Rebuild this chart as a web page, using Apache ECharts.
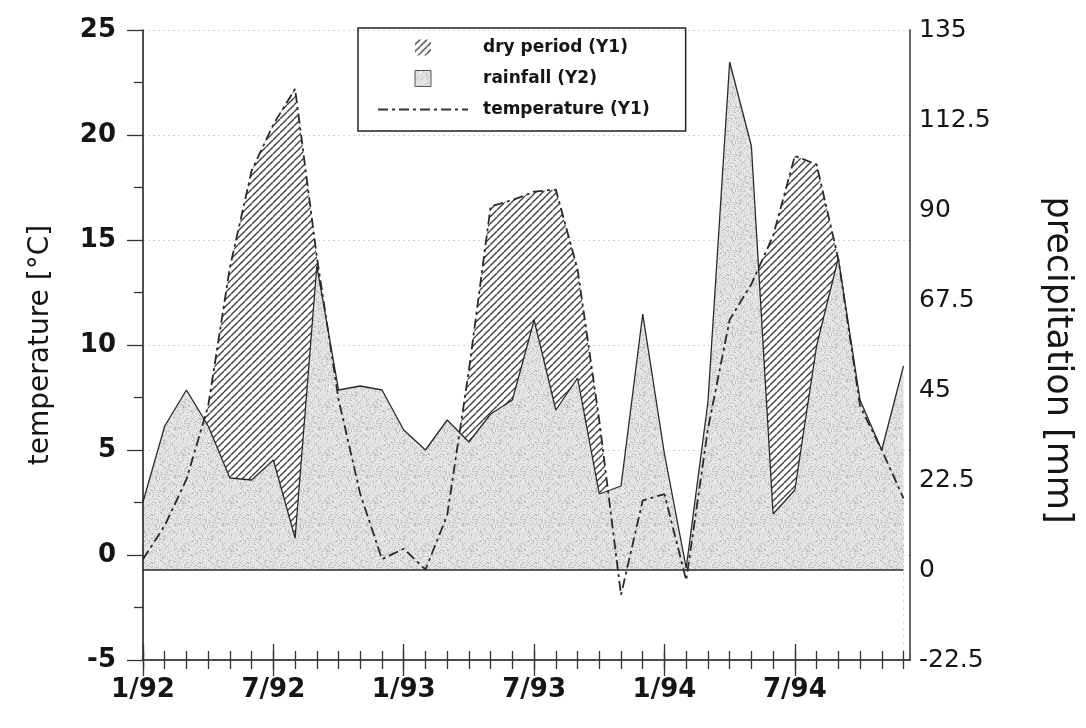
<!DOCTYPE html>
<html>
<head>
<meta charset="utf-8">
<script src="https://cdn.jsdelivr.net/npm/echarts@6/dist/echarts.min.js"></script>
<style>
html,body{margin:0;padding:0;background:#fff;}
#chart{width:1086px;height:728px;}
</style>
</head>
<body>
<div id="chart"></div>
<script>
// ---- data ----
const months = ['1/92','2/92','3/92','4/92','5/92','6/92','7/92','8/92','9/92','10/92','11/92','12/92',
                '1/93','2/93','3/93','4/93','5/93','6/93','7/93','8/93','9/93','10/93','11/93','12/93',
                '1/94','2/94','3/94','4/94','5/94','6/94','7/94','8/94','9/94','10/94','11/94','12/94'];
// monthly mean temperature [°C] (Y1)
const temperature = [-0.2, 1.4, 3.6, 7.1, 13.7, 18.3, 20.5, 22.2, 14.2, 7.4, 2.9, -0.2,
                      0.3, -0.7, 1.9, 8.8, 16.6, 16.9, 17.3, 17.4, 13.6, 6.4, -1.9, 2.6,
                      2.9, -1.2, 6.0, 11.2, 12.9, 15.2, 19.0, 18.6, 14.1, 7.1, 5.0, 2.7];
// monthly precipitation [mm] (Y2)
const rainfall = [17, 36, 45, 36, 23, 22.5, 27.5, 8, 76, 45, 46, 45,
                  35, 30, 37.5, 32, 39, 42.5, 62.5, 40, 48, 19, 21, 64,
                  29, 0.5, 42, 127, 106, 14, 20, 56, 78, 42.5, 30, 51];
const xTickLabels = ['1/92','7/92','1/93','7/93','1/94','7/94'];
const tempTicks = [-5, 0, 5, 10, 15, 20, 25];
const precipTicks = [-22.5, 0, 22.5, 45, 67.5, 90, 112.5, 135];

// ---- derived ----
const monthIdx = months.map((m, i) => i);
const labelIdx = xTickLabels.map(l => months.indexOf(l));
const tempData = monthIdx.map(i => [i, temperature[i]]);
const rainData = monthIdx.map(i => [i, rainfall[i]]);
const lastMonth = monthIdx[monthIdx.length - 1];
const xMax = lastMonth + 0.3;

// ---- patterns ----
function makeHatch() {
  const s = 7, c = document.createElement('canvas');
  c.width = s; c.height = s;
  const g = c.getContext('2d');
  g.fillStyle = '#ffffff'; g.fillRect(0, 0, s, s);
  g.strokeStyle = '#3a3a3a'; g.lineWidth = 1.3;
  for (const k of [-s, 0, s]) { g.beginPath(); g.moveTo(k, s); g.lineTo(k + s, 0); g.stroke(); }
  return c;
}
function makeStipple() {
  const s = 48, c = document.createElement('canvas');
  c.width = s; c.height = s;
  const g = c.getContext('2d');
  g.fillStyle = '#dfdfdf'; g.fillRect(0, 0, s, s);
  for (let y = 0; y < s; y++) for (let x = 0; x < s; x++) {
    const h = (Math.imul(x + 1, 73856093) ^ Math.imul(y + 1, 19349663)) >>> 0;
    if (h % 7 === 0) { g.fillStyle = '#bababa'; g.fillRect(x, y, 1, 1); }
    else if (h % 5 === 0) { g.fillStyle = '#f0f0f0'; g.fillRect(x, y, 1, 1); }
  }
  return c;
}
const hatch = { image: makeHatch(), repeat: 'repeat' };
const stipple = { image: makeStipple(), repeat: 'repeat' };

const FONT = 'DejaVu Sans';
const INK = '#151515';
const SQUARE = 'path://M0,0L10,0L10,10L0,10Z';
const DASHDOT = 'path://M0,0h10v2h-10z M14,0h3v2h-3z M21,0h10v2h-10z M35,0h3v2h-3z M42,0h10v2h-10z M56,0h3v2h-3z M63,0h10v2h-10z M77,0h3v2h-3z M84,0h6v2h-6z';

const chart = echarts.init(document.getElementById('chart'), null, { renderer: 'canvas' });

const xCommon = { type: 'value', min: 0, max: xMax, interval: 1, position: 'bottom', z: 10,
                  splitLine: { show: false } };
const tickLine = { color: '#333', width: 1.3 };

chart.setOption({
  backgroundColor: '#ffffff',
  animation: false,
  grid: { left: 143, right: 176, top: 30, bottom: 68 },
  legend: {
    left: 358, top: 28, orient: 'vertical',
    itemWidth: 90, itemHeight: 16, itemGap: 14,
    padding: [11, 36, 13, 20],
    borderColor: '#222', borderWidth: 1.5,
    selectedMode: false,
    textStyle: { fontFamily: FONT, fontWeight: 'bold', fontSize: 17, color: INK, padding: [0, 0, 0, 10] },
    data: [
      { name: 'dry period (Y1)', icon: SQUARE, itemStyle: { color: hatch, borderWidth: 0 } },
      { name: 'rainfall (Y2)', icon: SQUARE, itemStyle: { color: stipple, borderColor: '#555', borderWidth: 1 } },
      { name: 'temperature (Y1)', icon: DASHDOT, itemStyle: { color: '#333', borderWidth: 0 } }
    ]
  },
  xAxis: [
    Object.assign({}, xCommon, {
      axisLine: { show: true, onZero: false, lineStyle: { color: INK, width: 1.5 } },
      axisTick: { show: true, inside: false, length: 9, customValues: monthIdx, lineStyle: tickLine },
      axisLabel: { show: true, customValues: labelIdx, margin: 17,
                   formatter: v => (Number.isInteger(v) && v % 6 === 0 && months[v]) ? months[v] : '',
                   fontFamily: FONT, fontWeight: 'bold', fontSize: 26, color: INK }
    }),
    Object.assign({}, xCommon, {
      axisLine: { show: false, onZero: false },
      axisTick: { show: true, inside: true, length: 9, customValues: monthIdx, lineStyle: tickLine },
      axisLabel: { show: false }
    }),
    Object.assign({}, xCommon, {
      axisLine: { show: false, onZero: false },
      axisTick: { show: true, inside: false, length: 16, customValues: labelIdx, lineStyle: tickLine },
      axisLabel: { show: false }
    }),
    Object.assign({}, xCommon, {
      axisLine: { show: false, onZero: false },
      axisTick: { show: true, inside: true, length: 16, customValues: labelIdx, lineStyle: tickLine },
      axisLabel: { show: false }
    })
  ],
  yAxis: [
    { type: 'value', position: 'left', min: tempTicks[0], max: tempTicks[tempTicks.length - 1], interval: 5, z: 10,
      name: 'temperature [°C]', nameLocation: 'middle', nameGap: 88, nameRotate: 90,
      nameTextStyle: { fontFamily: FONT, fontSize: 28, color: INK },
      axisLine: { show: true, onZero: false, lineStyle: { color: INK, width: 1.5 } },
      axisTick: { show: true, length: 16, lineStyle: tickLine },
      minorTick: { show: true, splitNumber: 2, length: 9, lineStyle: tickLine },
      axisLabel: { margin: 27, fontFamily: FONT, fontWeight: 'bold', fontSize: 26, color: INK },
      splitLine: { show: false } },
    { type: 'value', position: 'right', min: precipTicks[0], max: precipTicks[precipTicks.length - 1], interval: 22.5, z: 10,
      name: 'precipitation [mm]', nameLocation: 'middle', nameGap: 130, nameRotate: -90,
      nameTextStyle: { fontFamily: FONT, fontSize: 35, color: INK, padding: [0, 0, 0, 30] },
      axisLine: { show: true, onZero: false, lineStyle: { color: '#333', width: 1.5 } },
      axisTick: { show: false },
      axisLabel: { margin: 9, fontFamily: FONT, fontSize: 25, color: INK },
      splitLine: { show: false } },
    { type: 'value', position: 'left', min: tempTicks[0], max: tempTicks[tempTicks.length - 1], interval: 5, z: 0,
      axisLine: { show: false }, axisTick: { show: false }, axisLabel: { show: false },
      splitLine: { show: true, lineStyle: { color: '#d4d4d4', width: 1, type: [2, 3] } } }
  ],
  series: [
    { name: 'dry period (Y1)', type: 'line', xAxisIndex: 0, yAxisIndex: 0, z: 2,
      data: tempData, symbol: 'none',
      itemStyle: { color: '#333' },
      lineStyle: { width: 0 },
      areaStyle: { color: hatch, opacity: 1, origin: 'start' } },
    { name: 'rainfall (Y2)', type: 'line', xAxisIndex: 0, yAxisIndex: 1, z: 3,
      data: rainData, symbol: 'none',
      itemStyle: { color: '#555' },
      lineStyle: { color: '#2a2a2a', width: 1.3 },
      areaStyle: { color: stipple, opacity: 1 } },
    { name: 'cover', type: 'custom', xAxisIndex: 0, yAxisIndex: 1, z: 4, silent: true,
      data: [[0]],
      renderItem: (params, api) => {
        const p0 = api.coord([0, 0]);
        const p1 = api.coord([lastMonth, precipTicks[0]]);
        return { type: 'rect', shape: { x: p0[0], y: p0[1], width: p1[0] - p0[0], height: p1[1] - p0[1] },
                 style: { fill: '#ffffff' } };
      } },
    { name: 'baseline', type: 'line', xAxisIndex: 0, yAxisIndex: 1, z: 5, silent: true,
      data: [[0, 0], [lastMonth, 0]], symbol: 'none',
      lineStyle: { color: '#2a2a2a', width: 1.5 } },
    { name: 'temperature (Y1)', type: 'line', xAxisIndex: 0, yAxisIndex: 0, z: 6,
      data: tempData, symbol: 'none',
      itemStyle: { color: '#333' },
      lineStyle: { color: '#2a2a2a', width: 1.8, type: [10, 4, 3, 4] } }
  ]
});
</script>
</body>
</html>
